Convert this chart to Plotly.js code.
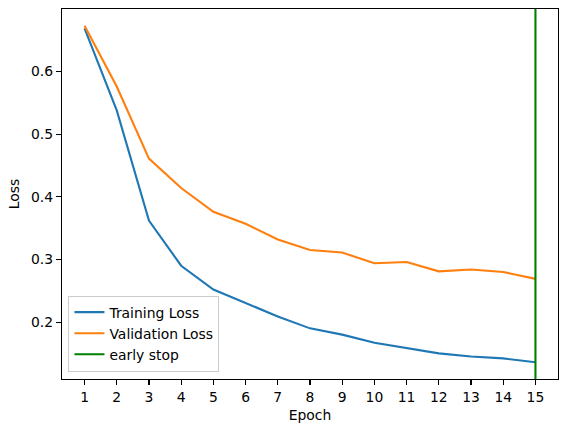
<!DOCTYPE html>
<html>
<head>
<meta charset="utf-8">
<script src="https://cdn.plot.ly/plotly-3.0.1.min.js"></script>
<style>
  html, body { margin: 0; padding: 0; background: #fff; }
  #chart { width: 567px; height: 432px; }
</style>
</head>
<body>
<div id="chart"></div>
<script>
// Loss per epoch for a training run halted by early stopping
const epochs = [1, 2, 3, 4, 5, 6, 7, 8, 9, 10, 11, 12, 13, 14, 15];
const trainingLoss = [0.669, 0.538, 0.362, 0.290, 0.252, 0.230, 0.209, 0.190, 0.180, 0.167, 0.158, 0.150, 0.145, 0.142, 0.136];
const validationLoss = [0.673, 0.576, 0.461, 0.414, 0.376, 0.357, 0.332, 0.315, 0.311, 0.294, 0.296, 0.281, 0.284, 0.280, 0.269];
const earlyStopEpoch = 15;
const tickLabels = epochs.map(String);

// axis limits padded 5% beyond the data, as a default matplotlib axes would be
const allY = trainingLoss.concat(validationLoss);
const yLo = Math.min(...allY), yHi = Math.max(...allY);
const yPad = (yHi - yLo) * 0.05;
const yRange = [yLo - yPad, yHi + yPad];
const xPad = (epochs[epochs.length - 1] - epochs[0]) * 0.05;
const xRange = [epochs[0] - xPad, epochs[epochs.length - 1] + xPad];

const font = { family: 'DejaVu Sans, sans-serif', size: 13.9, color: '#000' };

const traces = [
  { x: epochs, y: trainingLoss, mode: 'lines', name: 'Training Loss',
    line: { color: '#1f77b4', width: 2.1 } },
  { x: epochs, y: validationLoss, mode: 'lines', name: 'Validation Loss',
    line: { color: '#ff7f0e', width: 2.1 } },
  { x: [earlyStopEpoch, earlyStopEpoch], y: yRange, mode: 'lines', name: 'early stop',
    line: { color: '#008000', width: 2.1 } }
];

const axisCommon = {
  showgrid: false, zeroline: false, showline: true, mirror: true,
  linecolor: '#000', linewidth: 1.1, ticks: 'outside', ticklen: 5,
  tickwidth: 1.1, tickcolor: '#000', tickfont: font
};

const layout = {
  width: 567, height: 432,
  margin: { l: 62, r: 9, t: 9, b: 53 },
  paper_bgcolor: '#fff', plot_bgcolor: '#fff',
  font: font,
  showlegend: true,
  legend: {
    x: 0.013, y: 0.02, xanchor: 'left', yanchor: 'bottom',
    bgcolor: 'rgba(255,255,255,0.8)', bordercolor: '#cccccc', borderwidth: 1,
    font: font
  },
  xaxis: Object.assign({}, axisCommon, {
    range: xRange, tickmode: 'array', tickvals: epochs, ticktext: tickLabels,
    title: { text: 'Epoch', font: font, standoff: 6 }
  }),
  yaxis: Object.assign({}, axisCommon, {
    range: yRange, dtick: 0.1, tickformat: '.1f',
    title: { text: 'Loss', font: font, standoff: 8 }
  })
};

Plotly.newPlot('chart', traces, layout, { staticPlot: true, displayModeBar: false });
</script>
</body>
</html>
